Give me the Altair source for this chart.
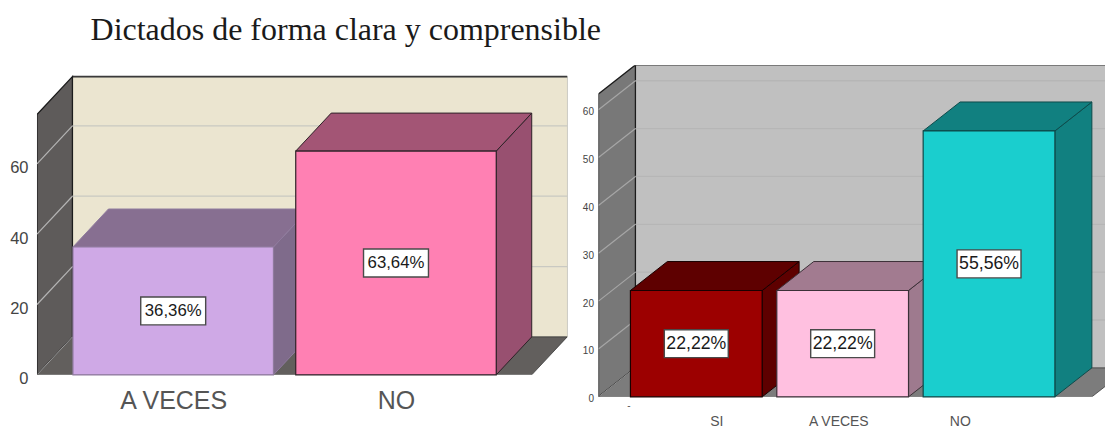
import altair as alt
import pandas as pd

TITLE = "Dictados de forma clara y comprensible"

L_CATS = ["A VECES", "NO"]
L_VALS = [36.36, 63.64]
L_TEXT = ["36,36%", "63,64%"]
L_FRONT = ["#cfa9e6", "#ff80b3"]
L_TOP = ["#876f91", "#a35575"]
L_SIDE = ["#7f6b8b", "#985070"]
L_EDGE = ["#8f7a9e", "#2e2228"]
L_TICKS = [0, 20, 40, 60]

R_CATS = ["SI", "A VECES", "NO"]
R_VALS = [22.22, 22.22, 55.56]
R_TEXT = ["22,22%", "22,22%", "55,56%"]
R_FRONT = ["#9c0000", "#ffc0e0", "#1acece"]
R_TOP = ["#5e0000", "#a27b90", "#118080"]
R_SIDE = ["#5e0000", "#9e7a8e", "#118080"]
R_EDGE = ["#1a0000", "#3c3038", "#0d4a4a"]
R_TICKS = [0, 10, 20, 30, 40, 50, 60]
R_LABEL_POS = [0.587, 1.42, 2.25]


def panel(cats, vals, texts, front, top, side, edge, ticks, cfg):
    ppx, ppy = cfg["slot"], cfg["ppy"]
    dx, dy = cfg["dx"] / ppx, cfg["dy"] / ppy
    x0 = -cfg["left_gap"] / ppx
    xmax = x0 + cfg["width"] / ppx
    ymax = cfg["height"] / ppy
    bw = cfg["bar"]
    xr = len(vals) - 1 + bw + dx
    wt = cfg["wall_top"]
    xs = alt.Scale(domain=[x0, xmax], nice=False, zero=False)
    ys = alt.Scale(domain=[0, ymax], nice=False, zero=False)
    label_expr = "[" + ",".join(f"'{c}'" for c in cats) + "][floor(datum.value)]"
    xaxis = alt.Axis(
        values=cfg["label_pos"], labelExpr=label_expr, domain=False, ticks=False, grid=False, title=None,
        labelFont=cfg["xfont"], labelFontSize=cfg["xsize"], labelColor=cfg["xcolor"],
        labelPadding=cfg["xpad"], labelOverlap=False, labelBound=False, labelFlush=False, labelAngle=0)
    yaxis = alt.Axis(
        values=ticks, domain=False, ticks=False, grid=False, title=None,
        labelFont=cfg["yfont"], labelFontSize=cfg["ysize"], labelColor=cfg["ycolor"],
        labelPadding=cfg["ypad"], labelOffset=cfg["yoff"], labelBound=False, labelFlush=False)

    X = lambda f="x": alt.X(f"{f}:Q", scale=xs, axis=xaxis)
    Y = lambda f="y": alt.Y(f"{f}:Q", scale=ys, axis=yaxis)
    X2 = lambda f="x2": alt.X2(f)
    Y2 = lambda f="y2": alt.Y2(f)

    def hface(x_a, x_b, v, fill, stroke=None, sw=1.0):
        df = pd.DataFrame({"x": [x_a, x_a + dx], "x2": [x_b, x_b + dx], "y": [v, v + dy]})
        kw = dict(stroke=stroke, strokeWidth=sw) if stroke else {}
        return alt.Chart(df).mark_area(orient="horizontal", color=fill, clip=True, opacity=1, **kw).encode(
            x=X(), x2=X2(), y=Y())

    def vface(x_a, v_lo, v_hi, fill, stroke=None, sw=1.0):
        df = pd.DataFrame({"x": [x_a, x_a + dx], "y": [v_lo, v_lo + dy], "y2": [v_hi, v_hi + dy]})
        kw = dict(stroke=stroke, strokeWidth=sw) if stroke else {}
        return alt.Chart(df).mark_area(orient="vertical", color=fill, clip=True, opacity=1, **kw).encode(
            x=X(), y=Y(), y2=Y2())

    layers = []

    # back wall, left wall, floor
    back = pd.DataFrame({"x": [x0 + dx], "x2": [xmax], "y": [dy], "y2": [wt + dy]})
    layers.append(alt.Chart(back).mark_rect(color=cfg["wall"], clip=True, stroke=cfg["wall_edge"], strokeWidth=0.8).encode(
        x=X(), x2=X2(), y=Y(), y2=Y2()))
    layers.append(alt.Chart(pd.DataFrame({"x": [x0 + dx], "x2": [xmax], "y": [wt + dy]})).mark_rule(
        color="#3a3a3a", strokeWidth=1.6, clip=True).encode(x=X(), x2=X2(), y=Y()))
    layers.append(vface(x0, 0, wt, cfg["lwall"], "#1c1c1c", 1.3))
    layers.append(hface(x0, xr, 0, cfg["floor"], "#3a3a3a", 0.8))

    # gridlines on both walls
    for t in ticks:
        if t == 0:
            continue
        g = pd.DataFrame({"x": [x0 + dx], "x2": [xmax], "y": [t + dy]})
        layers.append(alt.Chart(g).mark_rule(color=cfg["grid"], strokeWidth=1.3, clip=True).encode(x=X(), x2=X2(), y=Y()))
        d = pd.DataFrame({"x": [x0, x0 + dx], "y": [t, t + dy]})
        layers.append(alt.Chart(d).mark_line(color=cfg["lgrid"], strokeWidth=1.2, clip=True).encode(x=X(), y=Y()))
    d = pd.DataFrame({"x": [x0, x0 + dx], "y": [0, dy]})
    layers.append(alt.Chart(d).mark_line(color=cfg["lgrid"], strokeWidth=0.8, clip=True).encode(x=X(), y=Y()))

    # bars, drawn one after the other from left to right
    for i, v in enumerate(vals):
        a, b = i, i + bw
        layers.append(vface(b, 0, v, side[i], edge[i]))
        layers.append(hface(a, b, v, top[i], edge[i]))
        f = pd.DataFrame({"x": [a], "x2": [b], "y": [0], "y2": [v]})
        layers.append(alt.Chart(f).mark_rect(color=front[i], stroke=edge[i], strokeWidth=1.2).encode(
            x=X(), x2=X2(), y=Y(), y2=Y2()))

    # value labels
    lab = pd.DataFrame({"x": [i + bw / 2 for i in range(len(vals))], "y": [v / 2 for v in vals], "t": texts})
    layers.append(alt.Chart(lab).mark_rect(
        width=cfg["box"][0], height=cfg["box"][1], color="white", stroke="#4a4a4a", strokeWidth=1.4).encode(x=X(), y=Y()))
    layers.append(alt.Chart(lab).mark_text(
        font="Liberation Sans", fontSize=cfg["lab_size"], color="#1a1a1a", align="center", baseline="middle", dy=0.5
    ).encode(x=X(), y=Y(), text="t:N"))

    for extra in cfg.get("extra", []):
        layers.append(extra(X, Y))

    return alt.layer(*layers).properties(width=cfg["width"], height=cfg["height"])


left = panel(L_CATS, L_VALS, L_TEXT, L_FRONT, L_TOP, L_SIDE, L_EDGE, L_TICKS, dict(
    slot=223, ppy=3.52, dx=35.5, dy=38, left_gap=36, width=531, height=310,
    wall_top=74, bar=0.9,
    wall="#ebe5d0", wall_edge="#8a8a80", lwall="#5e5b5a", floor="#625f5d", grid="#c9c9c2", lgrid="#b5b5b5",
    label_pos=[0.45, 1.45],
    xfont="Liberation Sans", xsize=25, xcolor="#555555", xpad=14,
    yfont="Liberation Sans", ysize=16.5, ycolor="#444444", ypad=9, yoff=4,
    box=(65, 28), lab_size=16.8,
))

right = panel(R_CATS, R_VALS, R_TEXT, R_FRONT, R_TOP, R_SIDE, R_EDGE, R_TICKS, dict(
    slot=146.5, ppy=4.79, dx=37, dy=29, left_gap=32, width=507, height=332,
    wall_top=63.3, bar=0.9,
    wall="#c0c0c0", wall_edge="#c0c0c0", lwall="#787878", floor="#7c7c7c", grid="#b6b6b6", lgrid="#a6a6a6",
    label_pos=R_LABEL_POS,
    xfont="Liberation Sans", xsize=14, xcolor="#555555", xpad=18,
    yfont="Liberation Sans", ysize=10, ycolor="#444444", ypad=5, yoff=2,
    box=(64, 28), lab_size=17.7,
    extra=[lambda X, Y: alt.Chart(pd.DataFrame({"x": [-0.01], "y": [-2.0], "t": ["-"]})).mark_text(
        font="Liberation Sans", fontSize=10, color="#555555", clip=False
    ).encode(x=X(), y=Y(), text="t:N")],
))

chart = alt.hconcat(left, right, spacing=14).properties(
    title=alt.TitleParams(TITLE, anchor="start", font="Liberation Serif", fontSize=32, fontWeight="normal",
                          color="#1a1a1a", dx=81, offset=18),
    padding={"left": 1, "top": 6, "right": 0, "bottom": 0},
).configure_view(stroke=None)

chart.save("out.html", embed_options={"renderer": "svg", "actions": False})
